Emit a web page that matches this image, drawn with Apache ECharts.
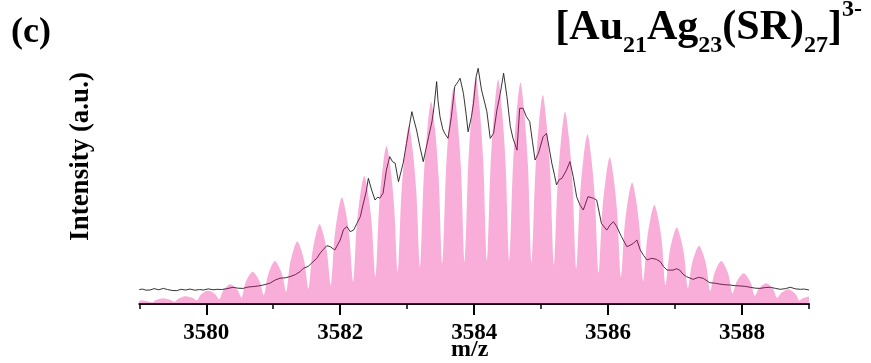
<!DOCTYPE html>
<html>
<head>
<meta charset="utf-8">
<script src="https://cdn.jsdelivr.net/npm/echarts@6.0.0/dist/echarts.min.js"></script>
<style>
  html, body { margin: 0; padding: 0; background: #fff; }
  #chart { width: 871px; height: 363px; }
</style>
</head>
<body>
<div id="chart"></div>
<script>
// Axis ticks (m/z)
const majorTicks = [3580, 3582, 3584, 3586, 3588];
const minorTicks = [3579, 3581, 3583, 3585, 3587, 3589];

// Simulated isotope pattern of [Au21Ag23(SR)27]3- : [m/z, relative intensity]
// one row per isotope peak: flank, flank, apex, flank, flank, valley
const simulatedProfile = [
  [3579.000, 1.45], [3579.025, 1.5], [3579.080, 1.4], [3579.136, 1.1], [3579.192, 0.7],
  [3579.247, 1.67], [3579.303, 2.21], [3579.358, 2.5], [3579.414, 2.26], [3579.469, 1.81], [3579.525, 1.0],
  [3579.581, 2.30], [3579.636, 3.02], [3579.692, 3.4], [3579.747, 3.11], [3579.803, 2.57], [3579.858, 1.6],
  [3579.914, 3.98], [3579.970, 5.30], [3580.025, 6.0], [3580.080, 5.38], [3580.136, 4.21], [3580.192, 2.1],
  [3580.247, 5.66], [3580.303, 7.64], [3580.358, 8.7], [3580.414, 7.77], [3580.469, 6.03], [3580.525, 2.9],
  [3580.581, 9.06], [3580.636, 12.48], [3580.692, 14.3], [3580.747, 12.64], [3580.803, 9.52], [3580.858, 3.9],
  [3580.914, 12.05], [3580.970, 16.58], [3581.025, 19.0], [3581.080, 16.82], [3581.136, 12.74], [3581.192, 5.4],
  [3581.247, 17.39], [3581.303, 24.05], [3581.358, 27.6], [3581.414, 24.27], [3581.469, 18.03], [3581.525, 6.8],
  [3581.581, 22.19], [3581.636, 30.74], [3581.692, 35.3], [3581.747, 30.98], [3581.803, 22.88], [3581.858, 8.3],
  [3581.914, 29.31], [3581.970, 40.98], [3582.025, 47.2], [3582.080, 41.23], [3582.136, 30.04], [3582.192, 9.9],
  [3582.247, 35.12], [3582.303, 49.13], [3582.358, 56.6], [3582.414, 49.46], [3582.469, 36.08], [3582.525, 12.0],
  [3582.581, 43.27], [3582.636, 60.64], [3582.692, 69.9], [3582.747, 60.99], [3582.803, 44.28], [3582.858, 14.2],
  [3582.914, 49.08], [3582.970, 68.46], [3583.025, 78.8], [3583.080, 68.8], [3583.136, 50.05], [3583.192, 16.3],
  [3583.247, 55.83], [3583.303, 77.79], [3583.358, 89.5], [3583.414, 78.04], [3583.469, 56.56], [3583.525, 17.9],
  [3583.581, 59.8], [3583.636, 83.08], [3583.692, 95.5], [3583.747, 83.23], [3583.803, 60.22], [3583.858, 18.8],
  [3583.914, 62.81], [3583.970, 87.26], [3584.025, 100.3], [3584.080, 87.32], [3584.136, 62.99], [3584.192, 19.2],
  [3584.247, 62.45], [3584.303, 86.48], [3584.358, 99.3], [3584.414, 86.5], [3584.469, 62.5], [3584.525, 19.3],
  [3584.581, 61.8], [3584.636, 85.41], [3584.692, 98.0], [3584.747, 85.28], [3584.803, 61.43], [3584.858, 18.5],
  [3584.914, 58.46], [3584.970, 80.66], [3585.025, 92.5], [3585.080, 80.47], [3585.136, 57.91], [3585.192, 17.3],
  [3585.247, 53.91], [3585.303, 74.25], [3585.358, 85.1], [3585.414, 74.01], [3585.469, 53.22], [3585.525, 15.8],
  [3585.581, 47.82], [3585.636, 65.61], [3585.692, 75.1], [3585.747, 65.31], [3585.803, 46.95], [3585.858, 13.9],
  [3585.914, 41.44], [3585.970, 56.74], [3586.025, 64.9], [3586.080, 56.44], [3586.136, 40.57], [3586.192, 12.0],
  [3586.247, 34.57], [3586.303, 47.11], [3586.358, 53.8], [3586.414, 46.81], [3586.469, 33.7], [3586.525, 10.1],
  [3586.581, 28.3], [3586.636, 38.41], [3586.692, 43.8], [3586.747, 38.14], [3586.803, 27.52], [3586.858, 8.4],
  [3586.914, 22.17], [3586.970, 29.82], [3587.025, 33.9], [3587.080, 29.6], [3587.136, 21.53], [3587.192, 7.0],
  [3587.247, 17.15], [3587.303, 22.79], [3587.358, 25.8], [3587.414, 22.6], [3587.469, 16.6], [3587.525, 5.8],
  [3587.581, 12.93], [3587.636, 16.89], [3587.692, 19.0], [3587.747, 16.71], [3587.803, 12.42], [3587.858, 4.7],
  [3587.914, 9.51], [3587.970, 12.18], [3588.025, 13.6], [3588.080, 12.0], [3588.136, 9.0], [3588.192, 3.6],
  [3588.247, 6.62], [3588.303, 8.3], [3588.358, 9.2], [3588.414, 8.18], [3588.469, 6.26], [3588.525, 2.8],
  [3588.581, 4.8], [3588.636, 5.91], [3588.692, 6.5], [3588.747, 5.72], [3588.803, 4.25], [3588.858, 1.6],
  [3588.914, 2.6], [3588.970, 3.1], [3589.000, 3.3]
];

// Measured ESI-MS trace: [m/z, relative intensity]
const experimentalTrace = [
  [3579.00, 6.4], [3579.05, 6.6], [3579.10, 6.1], [3579.16, 6.2], [3579.22, 6.8],
  [3579.29, 6.3], [3579.36, 6.9], [3579.42, 6.4], [3579.49, 6.0], [3579.56, 5.9],
  [3579.62, 6.5], [3579.69, 6.2], [3579.76, 6.6], [3579.83, 6.1], [3579.90, 6.4],
  [3579.96, 6.2], [3580.03, 6.7], [3580.10, 6.3], [3580.16, 6.5], [3580.23, 6.4],
  [3580.31, 6.8], [3580.40, 7.4], [3580.47, 7.0], [3580.55, 6.9], [3580.62, 7.5],
  [3580.70, 7.7], [3580.78, 8.0], [3580.85, 8.4], [3580.95, 9.2], [3581.03, 10.6],
  [3581.10, 11.4], [3581.18, 11.6], [3581.25, 12.1], [3581.33, 13.0], [3581.40, 14.3],
  [3581.45, 15.8], [3581.52, 16.6], [3581.57, 18.0], [3581.65, 20.2], [3581.70, 22.5],
  [3581.75, 24.2], [3581.80, 25.8], [3581.85, 25.4], [3581.92, 23.9], [3582.00, 28.3],
  [3582.05, 33.0], [3582.10, 34.2], [3582.15, 32.0], [3582.20, 32.7], [3582.25, 35.7],
  [3582.30, 38.6], [3582.34, 43.8], [3582.39, 50.0], [3582.42, 55.6], [3582.47, 50.4],
  [3582.52, 46.0], [3582.56, 47.3], [3582.59, 46.8], [3582.64, 49.0], [3582.69, 59.3],
  [3582.74, 65.2], [3582.78, 63.0], [3582.82, 62.3], [3582.87, 54.1], [3582.94, 62.3],
  [3582.99, 71.1], [3583.04, 80.0], [3583.07, 85.1], [3583.10, 81.5], [3583.14, 77.0],
  [3583.19, 69.6], [3583.24, 63.0], [3583.28, 68.5], [3583.32, 74.0], [3583.37, 80.7],
  [3583.40, 87.0], [3583.44, 98.4], [3583.46, 90.0], [3583.49, 82.9], [3583.53, 77.5],
  [3583.56, 75.5], [3583.61, 73.3], [3583.66, 82.9], [3583.71, 96.2], [3583.76, 98.4],
  [3583.79, 99.9], [3583.84, 93.2], [3583.88, 84.0], [3583.91, 76.2], [3583.96, 82.9],
  [3583.99, 88.8], [3584.03, 100.6], [3584.06, 104.3], [3584.11, 94.7], [3584.16, 88.8],
  [3584.19, 85.1], [3584.24, 73.3], [3584.29, 75.5], [3584.34, 85.8], [3584.39, 93.2],
  [3584.44, 102.1], [3584.49, 91.7], [3584.54, 78.5], [3584.58, 73.3], [3584.64, 68.1],
  [3584.68, 86.6], [3584.73, 86.6], [3584.78, 82.9], [3584.83, 80.7], [3584.87, 72.0],
  [3584.91, 63.7], [3584.96, 66.7], [3585.03, 74.0], [3585.08, 75.5], [3585.12, 69.0],
  [3585.16, 62.3], [3585.20, 57.0], [3585.23, 52.7], [3585.27, 55.0], [3585.31, 55.6],
  [3585.38, 59.3], [3585.43, 63.0], [3585.48, 56.3], [3585.53, 47.5], [3585.58, 43.8],
  [3585.63, 41.6], [3585.70, 47.5], [3585.78, 46.8], [3585.83, 46.0], [3585.90, 35.7],
  [3585.98, 32.7], [3586.03, 35.0], [3586.08, 36.4], [3586.13, 34.2], [3586.20, 29.8],
  [3586.28, 25.4], [3586.33, 26.0], [3586.38, 26.9], [3586.43, 28.3], [3586.48, 23.9],
  [3586.53, 21.5], [3586.58, 19.5], [3586.65, 20.2], [3586.72, 19.8], [3586.78, 18.7],
  [3586.83, 16.5], [3586.88, 15.0], [3586.97, 15.0], [3587.02, 15.6], [3587.07, 15.0],
  [3587.12, 13.2], [3587.17, 12.1], [3587.27, 10.9], [3587.35, 11.8], [3587.42, 11.4],
  [3587.52, 9.4], [3587.60, 9.2], [3587.67, 8.8], [3587.75, 8.5], [3587.82, 8.4],
  [3587.90, 8.1], [3587.97, 8.0], [3588.05, 7.8], [3588.12, 7.4], [3588.20, 7.0],
  [3588.27, 6.9], [3588.35, 7.3], [3588.42, 7.4], [3588.50, 6.9], [3588.57, 6.5],
  [3588.65, 6.8], [3588.72, 7.4], [3588.80, 6.7], [3588.87, 6.5], [3588.93, 6.6],
  [3589.00, 6.2]
];

const serif = "'Liberation Serif', 'Times New Roman', serif";
const chart = echarts.init(document.getElementById('chart'), null, { renderer: 'canvas' });

const axisBase = { type: 'value', min: 3579, max: 3589, position: 'bottom', splitLine: { show: false } };

chart.setOption({
  animation: false,
  backgroundColor: '#fff',
  grid: { left: 139.3, right: 62, top: 55.4, bottom: 59, outerBoundsMode: 'none', containLabel: false },
  xAxis: [
    Object.assign({}, axisBase, {
      name: 'm/z',
      nameLocation: 'middle',
      nameGap: 34,
      nameMoveOverlap: false,
      nameTextStyle: { fontFamily: serif, fontWeight: 'bold', fontSize: 24, color: '#000', padding: [0, 9, 0, 0] },
      axisLine: { show: true, onZero: false, lineStyle: { color: '#1a0610', width: 2 } },
      axisTick: { show: true, customValues: majorTicks, length: 11, lineStyle: { color: '#000', width: 2 } },
      axisLabel: {
        customValues: majorTicks, margin: 18,
        formatter: (v) => String(v),
        fontFamily: serif, fontWeight: 'bold', fontSize: 23, color: '#000'
      }
    }),
    Object.assign({}, axisBase, {
      axisLine: { show: false },
      axisTick: { show: true, customValues: minorTicks, length: 5, lineStyle: { color: '#000', width: 1.5 } },
      axisLabel: { show: false }
    })
  ],
  yAxis: { type: 'value', min: 0, max: 110, show: false },
  graphic: [
    {
      type: 'text', x: 11, y: 32.6,
      style: { text: '(c)', fontFamily: serif, fontWeight: 'bold', fontSize: 36, fill: '#000', align: 'left', verticalAlign: 'middle' }
    },
    {
      type: 'text', right: 9, top: -2,
      style: {
        text: '{m|[Au}{s|21}{m|Ag}{s|23}{m|(SR)}{s|27}{m|]}{p|3-}',
        fill: '#000',
        rich: {
          m: { fontFamily: serif, fontWeight: 'bold', fontSize: 42, lineHeight: 60, verticalAlign: 'middle', fill: '#000' },
          s: { fontFamily: serif, fontWeight: 'bold', fontSize: 24, lineHeight: 24, verticalAlign: 'bottom', fill: '#000' },
          p: { fontFamily: serif, fontWeight: 'bold', fontSize: 24, lineHeight: 40, verticalAlign: 'top', fill: '#000' }
        }
      }
    },
    {
      type: 'text', x: 81, y: 156.5, rotation: Math.PI / 2,
      style: { text: 'Intensity (a.u.)', fontFamily: serif, fontWeight: 'bold', fontSize: 27, fill: '#000', align: 'center', verticalAlign: 'middle' }
    }
  ],
  series: [
    {
      type: 'line', name: 'Experimental', data: experimentalTrace,
      symbol: 'none', showSymbol: false,
      lineStyle: { color: '#1e1e1e', width: 0.9 },
      z: 2
    },
    {
      type: 'line', name: 'Simulated', data: simulatedProfile,
      symbol: 'none', showSymbol: false, smooth: 0.3,
      lineStyle: { width: 0, opacity: 0 },
      areaStyle: { color: 'rgba(236,0,136,0.32)', opacity: 1 },
      z: 3
    }
  ]
});
</script>
</body>
</html>
